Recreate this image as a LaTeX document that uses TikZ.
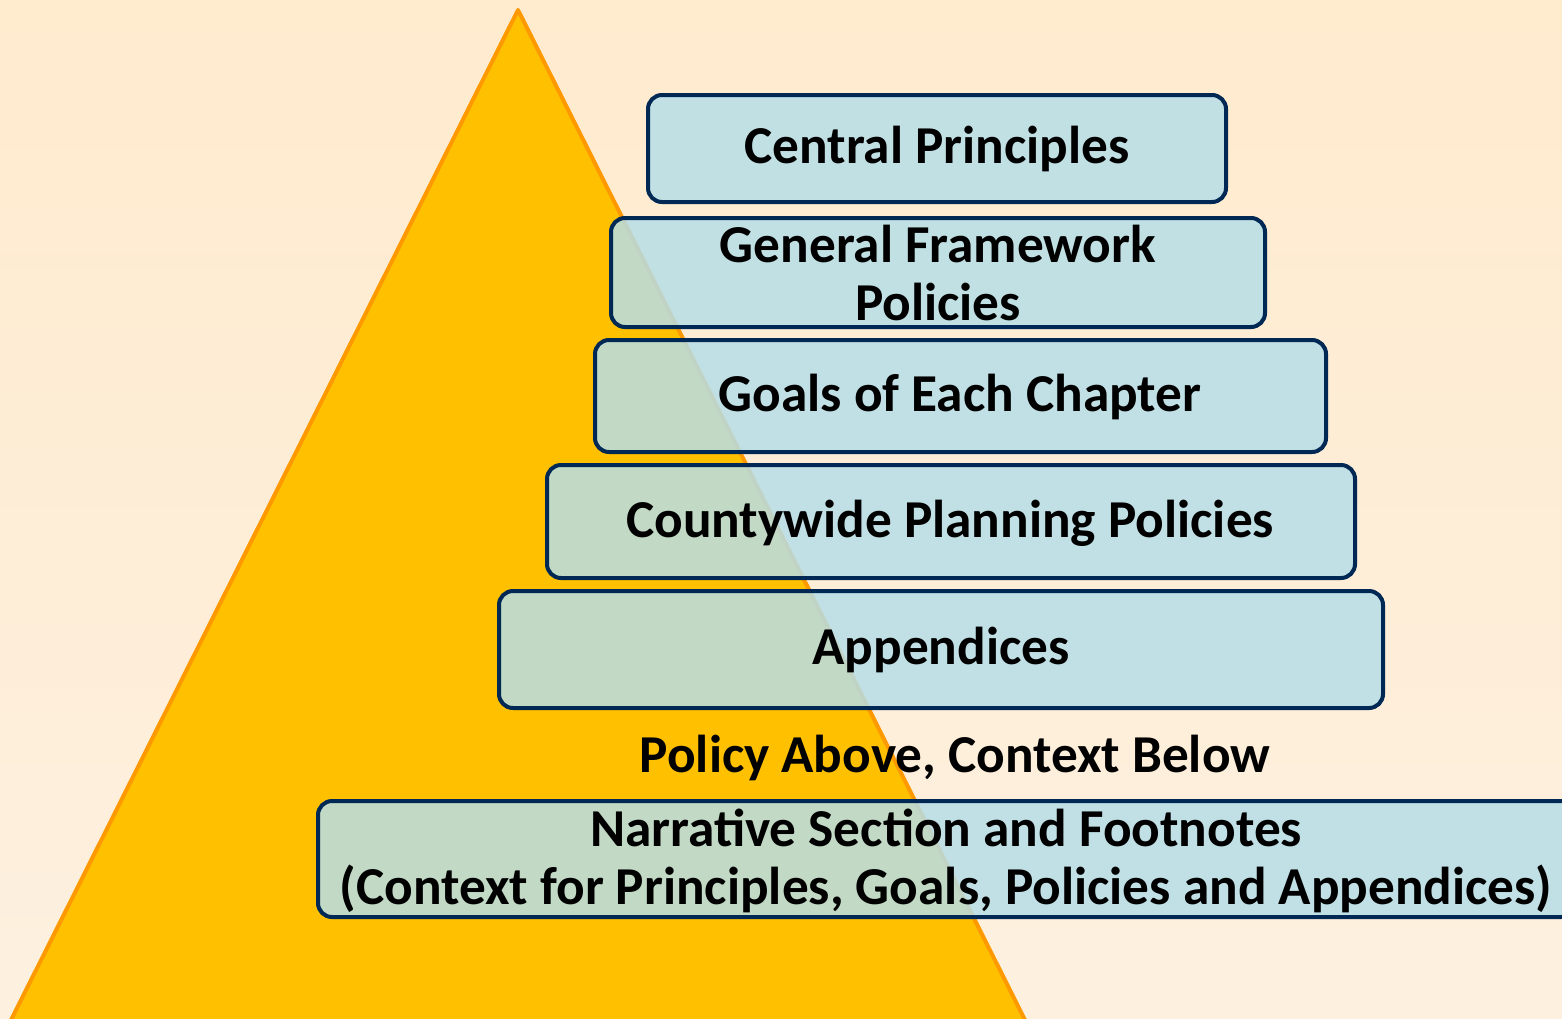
\documentclass[tikz,border=0pt]{standalone}
\usepackage{fontspec}
\setmainfont{Carlito}
\definecolor{bgtop}{RGB}{255,235,206}
\definecolor{bgbot}{RGB}{253,240,223}
\definecolor{trifill}{RGB}{255,192,0}
\definecolor{triedge}{RGB}{255,153,0}
\definecolor{boxfill}{RGB}{183,222,232}
\definecolor{boxedge}{RGB}{0,40,85}
\begin{document}
\begin{tikzpicture}[x=1pt,y=-1pt,
  tier/.style={draw=boxedge, line width=4pt, fill=boxfill, fill opacity=0.85, text opacity=1, rounded corners=14pt},
  lbl/.style={font=\fontsize{53.3}{58}\selectfont\bfseries, align=center, text=black, inner sep=0pt}]
\useasboundingbox (0,0) rectangle (1562,1018);
\shade[top color=bgtop, bottom color=bgbot] (0,0) rectangle (1562,1018);
\begin{scope}
\clip (0,0) rectangle (1562,1018);
\draw[fill=trifill, draw=triedge, line width=4pt, line join=round] (518,10) -- (1026,1022) -- (10,1022) -- cycle;
\draw[tier] (648,95) rectangle (1226,202);
\draw[tier] (611,218) rectangle (1265,327);
\draw[tier] (595,340) rectangle (1326,452);
\draw[tier] (547,465) rectangle (1355,578);
\draw[tier] (499,591) rectangle (1383,708);
\draw[tier] (318,801) rectangle (1575,917);
\end{scope}
\node[lbl] (cp) at (937,149) {Central Principles};
\node[lbl] (gf) at (938,273) {General Framework\\Policies};
\node[lbl] (gc) at (960,397) {Goals of Each Chapter};
\node[lbl] (cw) at (950,523) {Countywide Planning Policies};
\node[lbl] (ap) at (941,650) {Appendices};
\node[lbl] (pa) at (955,758) {Policy Above, Context Below};
\node[lbl] (nr) at (946,861) {Narrative Section and Footnotes\\(Context for Principles, Goals, Policies and Appendices)};
\end{tikzpicture}
\end{document}
